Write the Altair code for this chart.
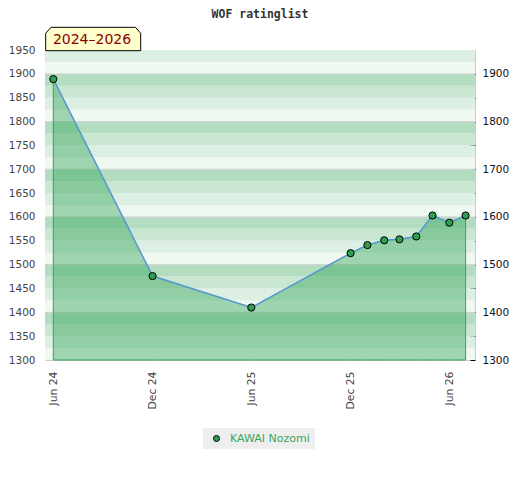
import altair as alt
import pandas as pd

# ---------------- data ----------------
player = "KAWAI Nozomi"
period_label = "2024–2026"
chart_title = "WOF ratinglist"

dates = ["2024-06-01", "2024-12-01", "2025-06-01", "2025-12-01", "2026-01-01",
         "2026-02-01", "2026-03-01", "2026-04-01", "2026-05-01", "2026-06-01",
         "2026-07-01"]
ratings = [1889, 1476, 1410, 1524, 1541, 1551, 1553, 1559, 1603, 1588, 1603]

y_min, y_max = 1300, 1950
left_ticks = list(range(1300, 1951, 50))
right_ticks = list(range(1300, 1901, 50))
grid_values = list(range(1400, 1901, 100))
band_step = 25
band_colors = ["#f0f8f2", "#dcefe2", "#c9e6d2", "#b3dcc0"]

x_ticks = [(2024, 6), (2024, 12), (2025, 6), (2025, 12), (2026, 6)]

# ---------------- tables ----------------
df = pd.DataFrame({"date": dates, "rating": ratings, "player": player})
lows = list(range(y_min, y_max, band_step))
bands = pd.DataFrame({
    "lo": lows,
    "hi": [v + band_step for v in lows],
    "color": [band_colors[((v - y_min) // band_step) % 4] for v in lows],
})
grid = pd.DataFrame({"v": grid_values})
box_df = pd.DataFrame({"label": [period_label]})

W, H = 430, 310

yscale = alt.Scale(domain=[y_min, y_max], nice=False, zero=False)
xscale = alt.Scale(
    type="utc",
    domain=[alt.DateTime(year=2024, month=5, date=16, hours=17, utc=True),
            alt.DateTime(year=2026, month=7, date=18, hours=7, utc=True)],
)

x_axis = alt.Axis(
    values=[alt.DateTime(year=y, month=m, date=1, utc=True) for y, m in x_ticks],
    format="%b %y", labelAngle=270, labelAlign="right", labelBaseline="middle",
    ticks=False, domain=False, grid=False, labelPadding=11,
    labelColor="#444444", title=None, labelFont="DejaVu Sans",
    labelFontSize=10.8, labelOverlap=False,
)
left_axis = alt.Axis(
    values=left_ticks, format="d", ticks=False, domain=False, grid=False,
    labelPadding=10, labelColor="#444444", title=None, labelFont="DejaVu Sans",
    labelFontSize=10.5,
)
right_axis = alt.Axis(
    orient="right", values=right_ticks, format="d",
    labelExpr="datum.value % 100 === 0 ? datum.label : ''",
    ticks=True, tickSize=5, tickColor="#000000", domain=False, grid=False,
    offset=-5, labelPadding=7, labelColor="#111111", title=None,
    labelFont="DejaVu Sans", labelFontSize=10.5,
)

band_layer = alt.Chart(bands).mark_rect().encode(
    x=alt.value(0), x2=alt.value(W),
    y=alt.Y("lo:Q", scale=yscale, axis=None), y2="hi:Q",
    color=alt.Color("color:N", scale=None),
)

grid_layer = alt.Chart(grid).mark_rule(color="#d2d2d2", strokeWidth=1).encode(
    x=alt.value(0), x2=alt.value(W),
    y=alt.Y("v:Q", scale=yscale, axis=None),
)

area_layer = alt.Chart(df).mark_area(
    fill="#35a65a", fillOpacity=0.44, stroke="#34a853", strokeWidth=1
).encode(
    x=alt.X("date:T", scale=xscale, axis=x_axis),
    y=alt.Y("rating:Q", scale=yscale, axis=left_axis),
    y2=alt.datum(y_min),
)

line_layer = alt.Chart(df).mark_line(color="#5b9bd5", strokeWidth=1.5).encode(
    x=alt.X("date:T", scale=xscale, axis=x_axis),
    y=alt.Y("rating:Q", scale=yscale, axis=right_axis),
)

point_layer = alt.Chart(df).mark_point(
    filled=True, shape="circle", size=52, stroke="#000000", strokeWidth=1,
    opacity=1, fillOpacity=1,
).encode(
    x=alt.X("date:T", scale=xscale, axis=x_axis),
    y=alt.Y("rating:Q", scale=yscale, axis=None),
    fill=alt.Fill(
        "player:N",
        scale=alt.Scale(domain=[player], range=["#2f9e50"]),
        legend=alt.Legend(
            title=None, orient="none", legendX=158, legendY=378,
            direction="horizontal", fillColor="#eeeeee", padding=5,
            symbolOffset=3, labelOffset=8, labelColor="#3aa55a",
            labelFont="DejaVu Sans", labelFontSize=11, symbolSize=36,
            symbolStrokeColor="#000000", symbolStrokeWidth=1,
            symbolType="circle",
        ),
    ),
)

box_path = "M-1,0.246 L-1,-0.12 L-0.89,-0.246 L0.89,-0.246 L1,-0.12 L1,0.246 Z"
box_layer = alt.Chart(box_df).mark_point(
    shape=box_path, size=9025, filled=True, fill="#ffffcc", stroke="#000000",
    strokeWidth=1, opacity=1, fillOpacity=1,
).encode(x=alt.value(48.2), y=alt.value(-11))

text_layer = alt.Chart(box_df).mark_text(
    font="DejaVu Sans", fontSize=14, color="#8b0000", align="center",
    baseline="middle",
).encode(text="label:N", x=alt.value(47), y=alt.value(-10.5))

chart = alt.layer(
    band_layer, grid_layer, area_layer, line_layer, point_layer, box_layer, text_layer
).resolve_axis(y="independent").properties(
    width=W, height=H,
    title=alt.Title(
        chart_title, font="DejaVu Sans Mono", fontSize=11.5, fontWeight="bold",
        color="#333333", anchor="middle", offset=4.5,
    ),
    autosize=alt.AutoSizeParams(type="none"),
    padding={"left": 37, "top": 42, "right": 37, "bottom": 100},
).configure_view(stroke="#cccccc", strokeWidth=1)

chart.save("out.html", embed_options={"renderer": "svg", "actions": False})
